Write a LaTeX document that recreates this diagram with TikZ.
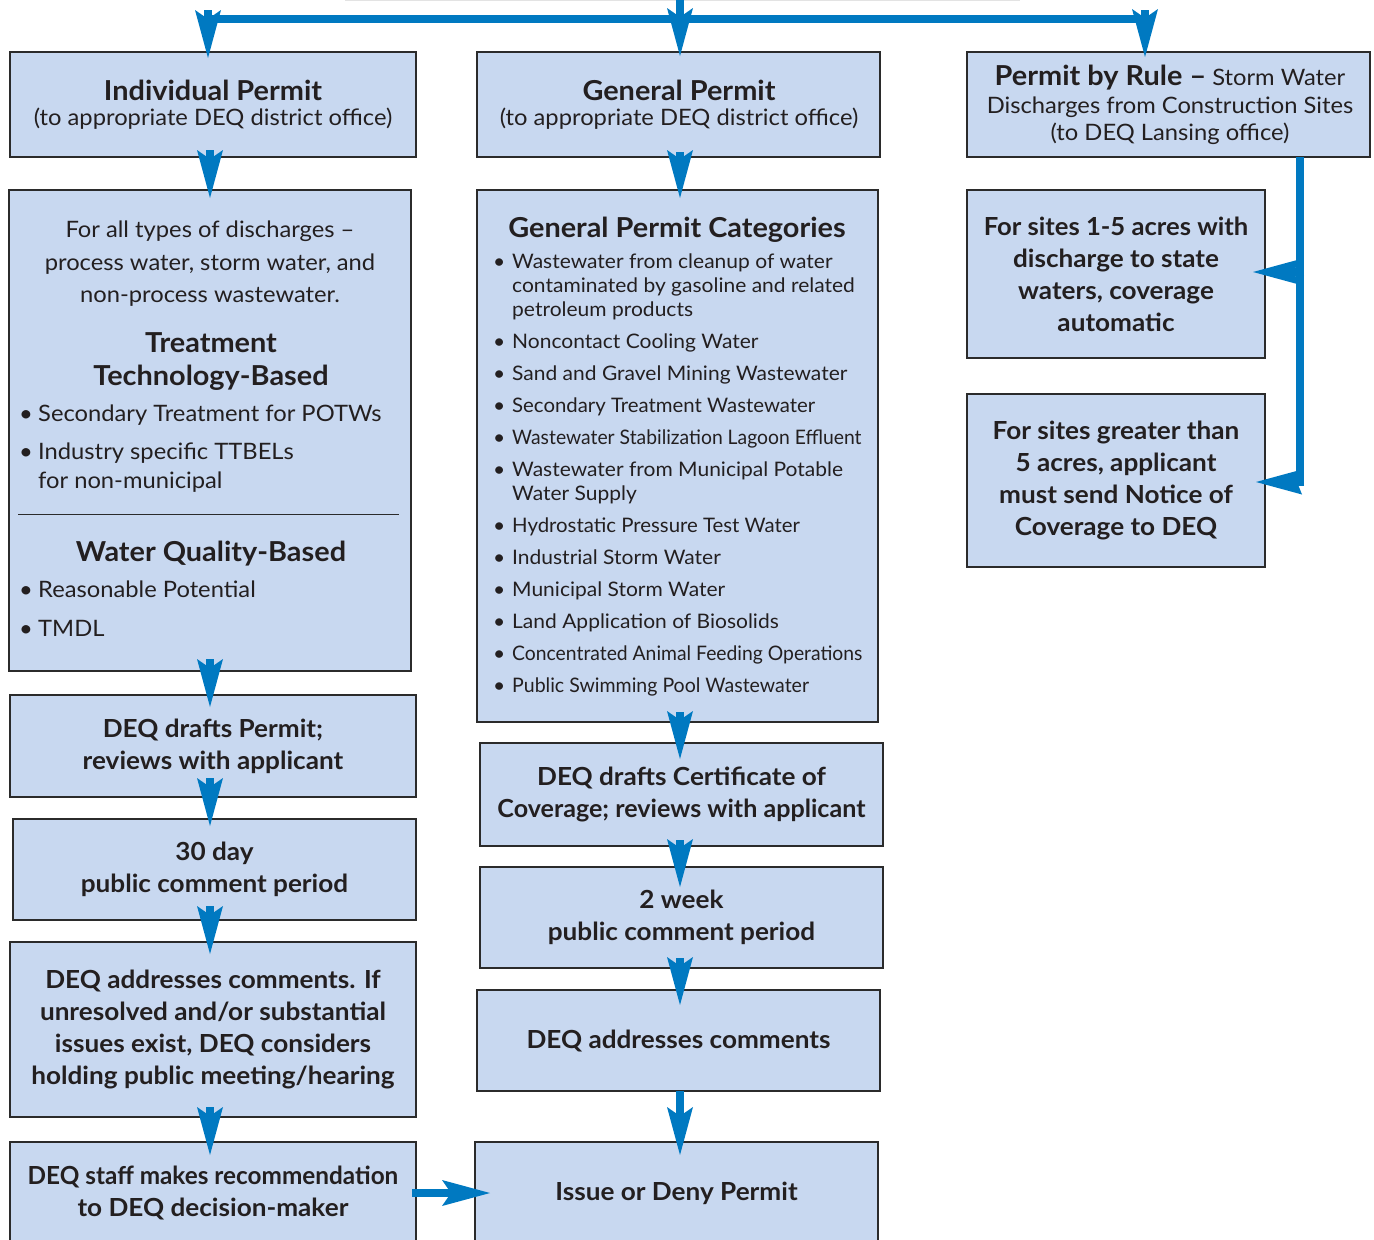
\documentclass[tikz,border=0pt]{standalone}
\usepackage{graphicx}
\usepackage{fontspec}
\setmainfont{Lato}
\newfontfamily\widelato[FakeStretch=1.05]{Lato}
\usetikzlibrary{arrows.meta,calc}
\definecolor{boxfill}{HTML}{C8D8F0}
\definecolor{boxline}{HTML}{2B2B2B}
\definecolor{arrowblue}{HTML}{0079C1}
\definecolor{txt}{HTML}{231F20}
\newcommand{\fsz}[2]{\fontsize{#1}{#2}\selectfont}
\newcommand{\bul}{\makebox[19pt][l]{•}}
\newcommand{\sx}[2]{\scalebox{#1}[1]{#2}}
\begin{document}
\begin{tikzpicture}[x=1pt,y=-1pt,
  box/.style={draw=boxline, line width=1.8pt, fill=boxfill, inner sep=0pt, outer sep=0pt, text=txt, align=center},
  bodybold/.style={font=\widelato\bfseries\fsz{24.9}{32}},
  flow/.style={draw=arrowblue, line width=7.5pt, -{Stealth[length=48pt,width=26pt,inset=9pt,line width=0pt]}},
  flowh/.style={draw=arrowblue, line width=7.5pt, -{Stealth[length=46pt,width=25pt,inset=5pt,line width=0pt]}},
  flowline/.style={draw=arrowblue, line width=7.5pt},
  lbl/.style={text=txt, inner sep=0pt, anchor=base},
  lblw/.style={text=txt, inner sep=0pt, anchor=base west},
  reg/.style={font=\widelato\fsz{22.6}{26}},
  regs/.style={font=\widelato\fsz{20}{24}},
  ttl/.style={font=\widelato\bfseries\fsz{27.5}{30}},
]
\useasboundingbox (0,0) rectangle (1374,1240);
\draw[gray!22, line width=1.5pt] (345,0.5) -- (1020,0.5);

% ---------- boxes ----------
\node[box, minimum width=406pt, minimum height=105pt] (b1) at (213,104.5) {};
\node[box, minimum width=402pt, minimum height=481pt] (b2) at (210,430.5) {};
\node[box, bodybold, minimum width=406pt, minimum height=102pt] (b3) at (213,746) {DEQ drafts Permit;\\reviews with applicant};
\node[box, bodybold, minimum width=403pt, minimum height=101pt] (b4) at (214.5,869.5) {30 day\\public comment period};
\node[box, bodybold, minimum width=406pt, minimum height=175pt] (b5) at (213,1029.5) {DEQ addresses comments. If\\unresolved and/or substantial\\issues exist, DEQ considers\\holding public meeting/hearing};
\node[box, bodybold, minimum width=406pt, minimum height=102pt] (b6) at (213,1193) {\sx{0.93}{DEQ staff makes recommendation}\\to DEQ decision-maker};

\node[box, minimum width=403pt, minimum height=105pt] (m1) at (678.5,104.5) {};
\node[box, minimum width=401pt, minimum height=532pt] (m2) at (677.5,456) {};
\node[box, bodybold, minimum width=403pt, minimum height=103pt] (m3) at (681.5,794.5) {DEQ drafts Certificate of\\\sx{0.96}{Coverage; reviews with applicant}};
\node[box, bodybold, minimum width=403pt, minimum height=101pt] (m4) at (681.5,917.5) {2 week\\public comment period};
\node[box, bodybold, minimum width=403pt, minimum height=101pt] (m5) at (678.5,1040.5) {DEQ addresses comments};
\node[box, bodybold, minimum width=403pt, minimum height=102pt] (m6) at (676.5,1193) {Issue or Deny Permit};

\node[box, minimum width=403pt, minimum height=105pt] (r1) at (1168.5,104.5) {};
\node[box, bodybold, minimum width=298pt, minimum height=168pt] (r2) at (1116,274) {\sx{0.98}{For sites 1-5 acres with}\\discharge to state\\waters, coverage\\automatic};
\node[box, bodybold, minimum width=298pt, minimum height=173pt] (r3) at (1116,480.5) {For sites greater than\\5 acres, applicant\\must send Notice of\\Coverage to DEQ};

% ---------- texts of top boxes ----------
\node[lbl, ttl] (b1t) at (213,100) {Individual Permit};
\node[lbl, reg] (b1s) at (213,125) {(to appropriate DEQ district office)};
\node[lbl, ttl] (m1t) at (679,100) {General Permit};
\node[lbl, reg] (m1s) at (679,125) {(to appropriate DEQ district office)};
\node[lbl, reg] (r1a) at (1170,85) {{\bfseries\fsz{27.5}{30}Permit by Rule –} Storm Water};
\node[lbl, reg] (r1b) at (1170,113) {Discharges from Construction Sites};
\node[lbl, reg] (r1c) at (1170,140) {(to DEQ Lansing office)};

% ---------- individual permit contents ----------
\node[lbl, reg] (b2a) at (210,237) {For all types of discharges –};
\node[lbl, reg] (b2b) at (210,270) {process water, storm water, and};
\node[lbl, reg] (b2c) at (210,302) {non-process wastewater.};
\node[lbl, ttl] (b2d) at (211,352) {Treatment};
\node[lbl, ttl] (b2e) at (211,385) {Technology-Based};
\node[lblw, reg] (b2f) at (19,421) {\bul Secondary Treatment for POTWs};
\node[lblw, reg] (b2g) at (19,459) {\bul Industry specific TTBELs};
\node[lblw, reg] (b2h) at (38,488) {for non-municipal};
\draw[boxline, line width=0.8pt] (18,514) -- (399,514);
\node[lbl, ttl] (b2i) at (211,561) {Water Quality-Based};
\node[lblw, reg] (b2j) at (19,597) {\bul Reasonable Potential};
\node[lblw, reg] (b2k) at (19,636) {\bul TMDL};

% ---------- general permit categories ----------
\node[lbl, ttl] (m2t) at (677,237) {General Permit Categories};
\node[lblw, regs] (m2a) at (493,268) {\bul Wastewater from cleanup of water};
\node[lblw, regs] (m2a2) at (512,292) {contaminated by gasoline and related};
\node[lblw, regs] (m2a3) at (512,316) {petroleum products};
\node[lblw, regs] (m2b) at (493,348) {\bul Noncontact Cooling Water};
\node[lblw, regs] (m2c) at (493,380) {\bul Sand and Gravel Mining Wastewater};
\node[lblw, regs] (m2d) at (493,412) {\bul \sx{0.97}{Secondary Treatment Wastewater}};
\node[lblw, regs] (m2e) at (493,444) {\bul \sx{0.92}{Wastewater Stabilization Lagoon Effluent}};
\node[lblw, regs] (m2f) at (493,476) {\bul Wastewater from Municipal Potable};
\node[lblw, regs] (m2f2) at (512,500) {Water Supply};
\node[lblw, regs] (m2g) at (493,532) {\bul \sx{0.97}{Hydrostatic Pressure Test Water}};
\node[lblw, regs] (m2h) at (493,564) {\bul Industrial Storm Water};
\node[lblw, regs] (m2i) at (493,596) {\bul Municipal Storm Water};
\node[lblw, regs] (m2j) at (493,628) {\bul Land Application of Biosolids};
\node[lblw, regs] (m2k) at (493,660) {\bul \sx{0.92}{Concentrated Animal Feeding Operations}};
\node[lblw, regs] (m2l) at (493,692) {\bul \sx{0.93}{Public Swimming Pool Wastewater}};

% ---------- connectors ----------
\coordinate (xl) at (210,0);
\coordinate (xm) at (680,0);
\coordinate (xr) at (1300,0);
\coordinate (tl) at (208,19);
\coordinate (tr) at (1145,19);
\coordinate (tin) at (680,-10);
\coordinate (rb) at (1300,486);

\draw[flowline] (tl) -- (tr);
\draw[flow] (tin) -- ($(m1.north -| xm)+(0,4)$);
\draw[flow] ($(tl)+(0,-9)$) -- ($(b1.north -| tl)+(0,6)$);
\draw[flow] ($(tr)+(0,-9)$) -- ($(r1.north -| tr)+(0,5)$);

\draw[flow] ($(b1.south -| xl)+(0,-7)$) -- ($(b2.north -| xl)+(0,8)$);
\draw[flow] ($(b2.south -| xl)+(0,-12)$) -- ($(b3.north -| xl)+(0,12)$);
\draw[flow] ($(b3.south -| xl)+(0,-19)$) -- ($(b4.north -| xl)+(0,7)$);
\draw[flow] ($(b4.south -| xl)+(0,-14)$) -- ($(b5.north -| xl)+(0,12)$);
\draw[flow] ($(b5.south -| xl)+(0,-10)$) -- ($(b6.north -| xl)+(0,13)$);

\draw[flow] ($(m1.south -| xm)+(0,-5)$) -- ($(m2.north -| xm)+(0,8)$);
\draw[flow] ($(m2.south -| xm)+(0,-10)$) -- ($(m3.north -| xm)+(0,16)$);
\draw[flow] ($(m3.south -| xm)+(0,-6)$) -- ($(m4.north -| xm)+(0,20)$);
\draw[flow] ($(m4.south -| xm)+(0,-10)$) -- ($(m5.north -| xm)+(0,15)$);
\draw[flow] (m5.south -| xm) -- ($(m6.north -| xm)+(0,13)$);

\draw[flow] ($(b6.east)+(-4,0)$) -- ($(m6.west)+(15,0)$);

\draw[flowline] (r1.south -| xr) -- (rb);
\draw[flowh] ($(r2.east -| xr)+(4,-2)$) -- ($(r2.east)+(-12,-2)$);
\draw[flowh] ($(r3.east -| xr)+(4,1.5)$) -- ($(r3.east)+(-9,1.5)$);
\end{tikzpicture}
\end{document}
